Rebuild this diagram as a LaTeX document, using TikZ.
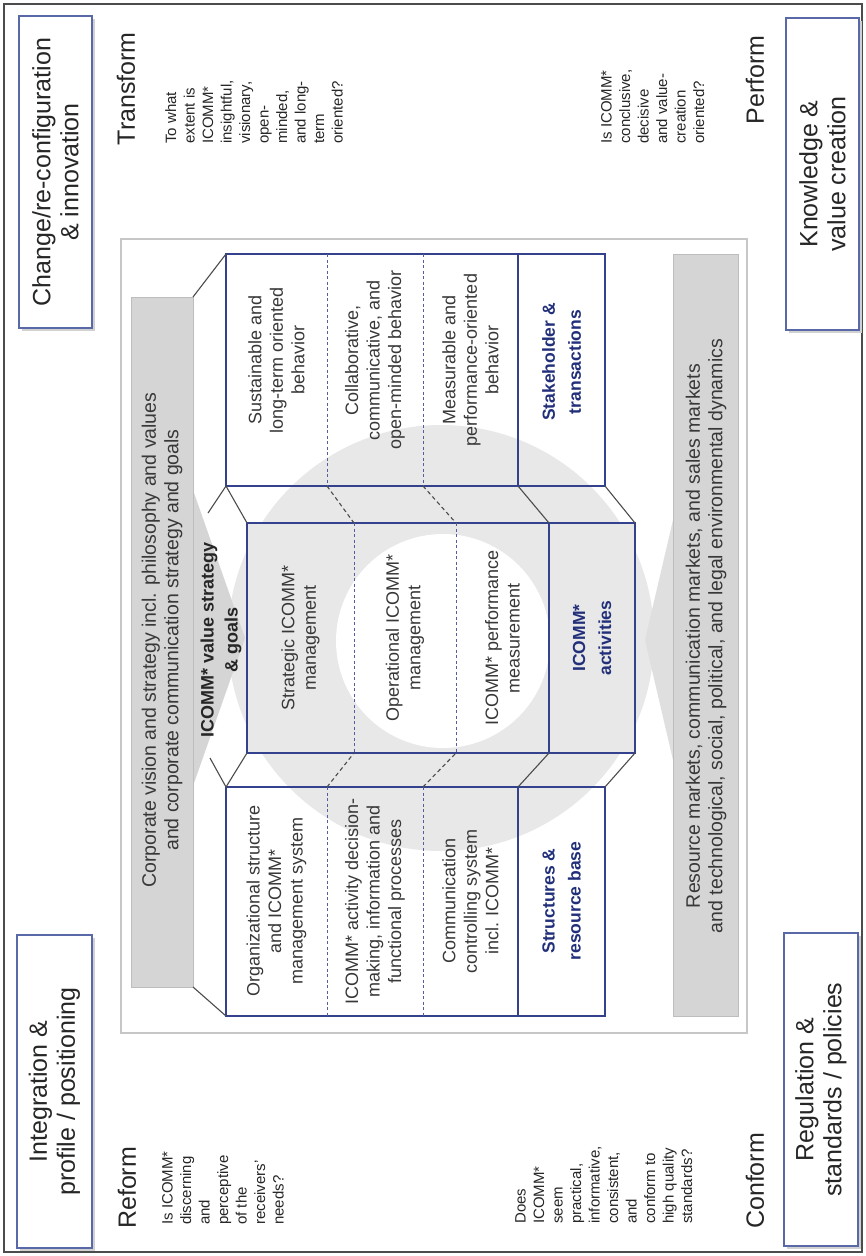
\documentclass[tikz,border=0pt]{standalone}
\usepackage{fontspec}
\setmainfont{Liberation Sans}
\definecolor{navy}{HTML}{34418C}
\definecolor{boxblue}{HTML}{5868A8}
\definecolor{bargrey}{HTML}{D5D5D5}
\definecolor{barline}{HTML}{BDBDBD}
\definecolor{ringgrey}{HTML}{E8E8E8}
\definecolor{txt}{HTML}{383838}
\definecolor{lbl}{HTML}{22307A}
\begin{document}
\begin{tikzpicture}[x=1pt,y=-1pt,
 every node/.style={inner sep=0pt, text=txt},
 rot/.style={rotate=90, align=center},
 paneltext/.style={rot, font=\fontsize{18}{21.5}\selectfont},
 boldlbl/.style={rot, font=\bfseries\fontsize{17.5}{26}\selectfont, text=lbl},
 bartext/.style={rot, font=\fontsize{19.5}{22.5}\selectfont},
 question/.style={rotate=90, align=left, anchor=north west, font=\fontsize{15}{18.5}\selectfont, text=black!85},
 phase/.style={rotate=90, font=\fontsize{25}{28}\selectfont, text=black!85},
 cornerbox/.style={rot, draw=boxblue, line width=1.4pt, fill=white, font=\fontsize{25}{28}\selectfont, text=black!85},
 panelline/.style={draw=navy, line width=1.3pt},
 dashline/.style={draw=navy!85, line width=0.9pt, dash pattern=on 3pt off 2.5pt},
 diag/.style={draw=black!70, line width=1.1pt},
 diagdash/.style={draw=black!70, line width=1.1pt, dash pattern=on 4pt off 3pt},
 shadowfill/.style={fill=black!18},
]
\useasboundingbox (0,0) rectangle (866,1256);
\fill[white] (0,0) rectangle (866,1256);
% outer frame
\draw[black!70, line width=2.5pt] (4,4) rectangle (862,1252);
% inner frame
\draw[black!22, line width=2pt] (121,239) rectangle (747,1033);
% ring
\fill[ringgrey] (441,638) circle (213pt);
% grey bars with chevrons
\fill[bargrey] (193,490) -- (245,638) -- (193,786) -- cycle;
\filldraw[fill=bargrey, draw=barline, line width=0.8pt] (131,297) rectangle (193,987);
\fill[bargrey!75] (673,520) -- (645,640) -- (673,760) -- cycle;
\filldraw[fill=bargrey, draw=barline, line width=0.8pt] (673,254) rectangle (738,1016);
% central panel
\fill[ringgrey] (247,523) rectangle (635,753);
\fill[white] (443,641) circle (107pt);
% panels
\draw[panelline] (226,254) rectangle (605,486);
\draw[panelline] (518,254) -- (518,486);
\draw[dashline] (327,254) -- (327,486);
\draw[dashline] (423,254) -- (423,486);
\draw[panelline] (247,523) rectangle (635,753);
\draw[panelline] (549,523) -- (549,753);
\draw[dashline] (354,523) -- (354,753);
\draw[dashline] (456,523) -- (456,753);
\draw[panelline] (226,787) rectangle (605,1016);
\draw[panelline] (518,787) -- (518,1016);
\draw[dashline] (327,787) -- (327,1016);
\draw[dashline] (423,787) -- (423,1016);
% named corner points
\coordinate (barTop) at (193,297);
\coordinate (barBot) at (193,987);
\coordinate (aTL) at (226,254);
\coordinate (aBL) at (226,486);
\coordinate (aBR) at (605,486);
\coordinate (aBS) at (518,486);
\coordinate (aD1) at (327,486);
\coordinate (aD2) at (423,486);
\coordinate (bBL) at (226,1016);
\coordinate (bTL) at (226,787);
\coordinate (bTR) at (605,787);
\coordinate (bTS) at (518,787);
\coordinate (bD1) at (327,787);
\coordinate (bD2) at (423,787);
\coordinate (cTL) at (247,523);
\coordinate (cTR) at (635,523);
\coordinate (cTS) at (549,523);
\coordinate (cTD1) at (354,523);
\coordinate (cTD2) at (456,523);
\coordinate (cBL) at (247,753);
\coordinate (cBR) at (635,753);
\coordinate (cBS) at (549,753);
\coordinate (cBD1) at (354,753);
\coordinate (cBD2) at (456,753);
\coordinate (triA) at (208,513);
\coordinate (triB) at (210,758);
% diagonals
\draw[diag] (barTop) -- (aTL);
\draw[diag] (barBot) -- (bBL);
\draw[diag] (triA) -- (aBL) -- (cTL);
\draw[diag] (triB) -- (bTL) -- (cBL);
\draw[diag] (aBR) -- (cTR);
\draw[diag] (aBS) -- (cTS);
\draw[diag] (bTR) -- (cBR);
\draw[diag] (bTS) -- (cBS);
\draw[diagdash] (aD1) -- (cTD1);
\draw[diagdash] (aD2) -- (cTD2);
\draw[diagdash] (bD1) -- (cBD1);
\draw[diagdash] (bD2) -- (cBD2);
% bar texts
\node[bartext] (corp) at (162,640) {Corporate vision and strategy incl. philosophy and values\\and corporate communication strategy and goals};
\node[bartext] (res) at (706,636) {Resource markets, communication markets, and sales markets\\and technological, social, political, and legal environmental dynamics};
\node[boldlbl, text=black!85, font=\bfseries\fontsize{18}{24}\selectfont] (vsg) at (221,640) {ICOMM* value strategy\\\& goals};
% panel A texts
\node[paneltext] (a1) at (276.5,360) {Sustainable and\\long-term oriented\\behavior};
\node[paneltext] (a2) at (375,360) {Collaborative,\\communicative, and\\open-minded behavior};
\node[paneltext] (a3) at (470.5,360) {Measurable and\\performance-oriented\\behavior};
\node[boldlbl] (a4) at (561.5,362) {Stakeholder \&\\transactions};
% central texts
\node[paneltext] (c1) at (300.5,638) {Strategic ICOMM*\\management};
\node[paneltext] (c2) at (405,638) {Operational ICOMM*\\management};
\node[paneltext] (c3) at (502.5,638) {ICOMM* performance\\measurement};
\node[boldlbl] (c4) at (592,638) {ICOMM*\\activities};
% panel B texts
\node[paneltext] (b1) at (276.5,901) {Organizational structure\\and ICOMM*\\management system};
\node[paneltext] (b2) at (375,901) {ICOMM* activity decision-\\making, information and\\functional processes};
\node[paneltext] (b3) at (470.5,901) {Communication\\controlling system\\incl. ICOMM*};
\node[boldlbl] (b4) at (561.5,901) {Structures \&\\resource base};
% corner boxes
\fill[shadowfill] (22,19) rectangle (95,331);
\fill[shadowfill] (789,21) rectangle (862,333);
\fill[shadowfill] (20,938) rectangle (95,1251);
\fill[shadowfill] (787,936) rectangle (861,1249);
\node[cornerbox, minimum width=312pt, minimum height=73pt] (change) at (55.5,172) {Change/re-configuration\\\& innovation};
\node[cornerbox, minimum width=312pt, minimum height=73pt] (know) at (822.5,174) {Knowledge \&\\value creation};
\node[cornerbox, minimum width=313pt, minimum height=75pt] (integ) at (54.5,1091.5) {Integration \&\\profile / positioning};
\node[cornerbox, minimum width=313pt, minimum height=74pt] (regul) at (821,1089.5) {Regulation \&\\standards / policies};
% phase labels
\node[phase, anchor=east] (transform) at (126,32) {Transform};
\node[phase, anchor=east] (perform) at (755,35) {Perform};
\node[phase, anchor=west] (reform) at (127,1229) {Reform};
\node[phase, anchor=west] (conform) at (755,1229) {Conform};
% questions
\node[question] (q1) at (165,144) {To what\\extent is\\ICOMM*\\insightful,\\visionary,\\open-\\minded,\\and long-\\term\\oriented?};
\node[question] (q2) at (601,144) {Is ICOMM*\\conclusive,\\decisive\\and value-\\creation\\oriented?};
\node[question] (q3) at (162,1225) {Is ICOMM*\\discerning\\and\\perceptive\\of the\\receivers'\\needs?};
\node[question] (q4) at (515,1224) {Does\\ICOMM*\\seem\\practical,\\informative,\\consistent,\\and\\conform to\\high quality\\standards?};
\end{tikzpicture}
\end{document}
